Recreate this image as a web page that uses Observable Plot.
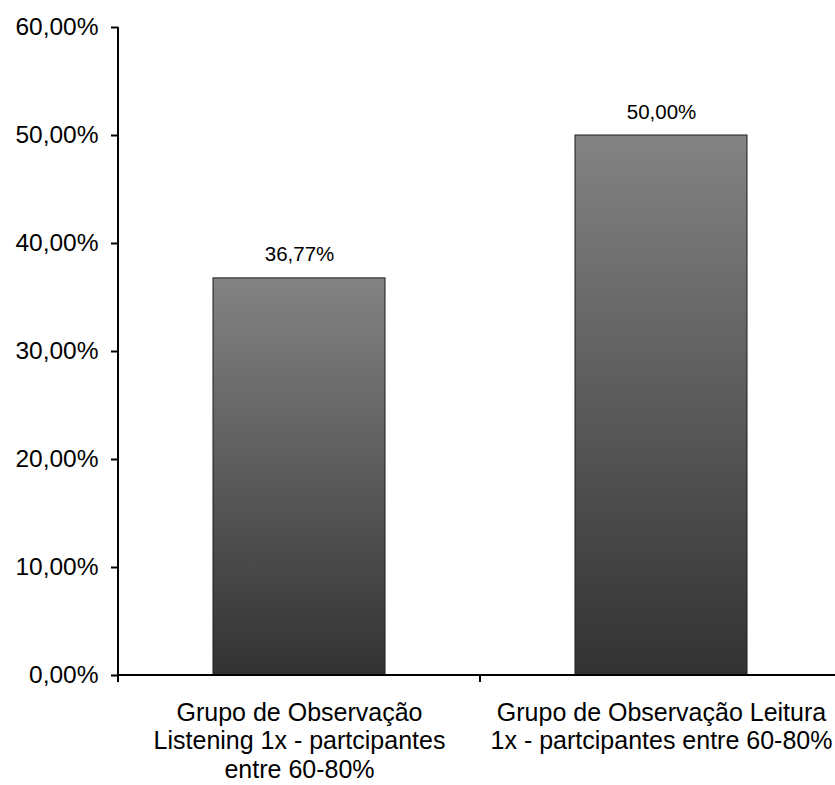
<!DOCTYPE html>
<html>
<head>
<meta charset="utf-8">
<script src="https://cdn.jsdelivr.net/npm/d3@7"></script>
<script src="https://cdn.jsdelivr.net/npm/@observablehq/plot@0.6"></script>
<style>
  html, body { margin: 0; padding: 0; background: #fff; }
  #chart svg { font-family: "Liberation Sans", Arial, Helvetica, sans-serif; }
</style>
</head>
<body>
<div id="chart"></div>
<script>
// Category labels (line breaks as wrapped under the axis)
const categories = [
  "Grupo de Observação\nListening 1x - partcipantes\nentre 60-80%",
  "Grupo de Observação Leitura\n1x - partcipantes entre 60-80%"
];
// Share of participants, in percent
const values = [36.77, 50.00];
// Y axis ticks, in percent
const yTicks = [0, 10, 20, 30, 40, 50, 60];

const rows = categories.map((category, i) => ({category, value: values[i]}));

// Portuguese-style percentage: two decimals with a decimal comma
const pct = v => v.toFixed(2).replace(".", ",") + "%";

const PAD_INNER = 0.525;

// Vertical shading used by each bar: lighter at the top, darker at the bottom
function barShade() {
  const defs = d3.create("svg:defs");
  const g = defs.append("linearGradient")
    .attr("id", "barShade")
    .attr("x1", 0).attr("y1", 0).attr("x2", 0).attr("y2", 1);
  g.append("stop").attr("offset", "0%").attr("stop-color", "#838383");
  g.append("stop").attr("offset", "100%").attr("stop-color", "#323232");
  return defs.node();
}

// Axis lines plus the category-boundary ticks below the baseline
function axisFrame(index, scales, values, dims) {
  const x = scales.x;
  const step = typeof x.step === "function" ? x.step() : scales.scales.x.step;
  const bw = typeof x.bandwidth === "function" ? x.bandwidth() : scales.scales.x.bandwidth;
  const centers = categories.map(c => x(c) + bw / 2);
  const bounds = [centers[0] - step / 2, ...centers.map(c => c + step / 2)];
  const left = dims.marginLeft;
  const top = dims.marginTop;
  const bottom = dims.height - dims.marginBottom;
  const right = dims.width - dims.marginRight;
  const g = d3.create("svg:g")
    .attr("stroke", "#000")
    .attr("stroke-width", 2)
    .attr("fill", "none");
  g.append("line").attr("x1", left).attr("x2", left).attr("y1", top).attr("y2", bottom);
  g.append("line").attr("x1", left).attr("x2", right).attr("y1", bottom).attr("y2", bottom);
  for (const b of bounds) {
    g.append("line").attr("x1", b).attr("x2", b).attr("y1", bottom).attr("y2", bottom + 7);
  }
  return g.node();
}

const chart = Plot.plot({
  width: 835,
  height: 785,
  marginLeft: 118,
  marginRight: 0,
  marginTop: 27,
  marginBottom: 110,
  style: {
    background: "#fff",
    color: "#000",
    fontSize: "24px",
    overflow: "visible"
  },
  x: {
    domain: categories,
    range: [118, 842],
    paddingInner: PAD_INNER,
    paddingOuter: PAD_INNER / 2,
    axis: null
  },
  y: {domain: [0, 60], axis: null},
  marks: [
    barShade,
    Plot.barY(rows, {
      x: "category",
      y: "value",
      fill: "url(#barShade)",
      stroke: "#1c1c1c",
      strokeWidth: 1
    }),
    Plot.text(rows, {
      x: "category",
      y: "value",
      text: d => pct(d.value),
      fontSize: 20.5,
      lineAnchor: "bottom",
      dy: -17,
      fill: "#000"
    }),
    Plot.axisY({
      ticks: yTicks,
      tickFormat: pct,
      tickSize: 7,
      tickPadding: 13,
      strokeWidth: 2,
      fontSize: 24.5,
      label: null
    }),
    Plot.text(categories, {
      x: d => d,
      text: d => d,
      frameAnchor: "bottom",
      lineAnchor: "top",
      dy: 25,
      lineHeight: 1.14,
      fontSize: 25,
      fill: "#000"
    }),
    axisFrame
  ]
});

document.getElementById("chart").append(chart);
</script>
</body>
</html>
